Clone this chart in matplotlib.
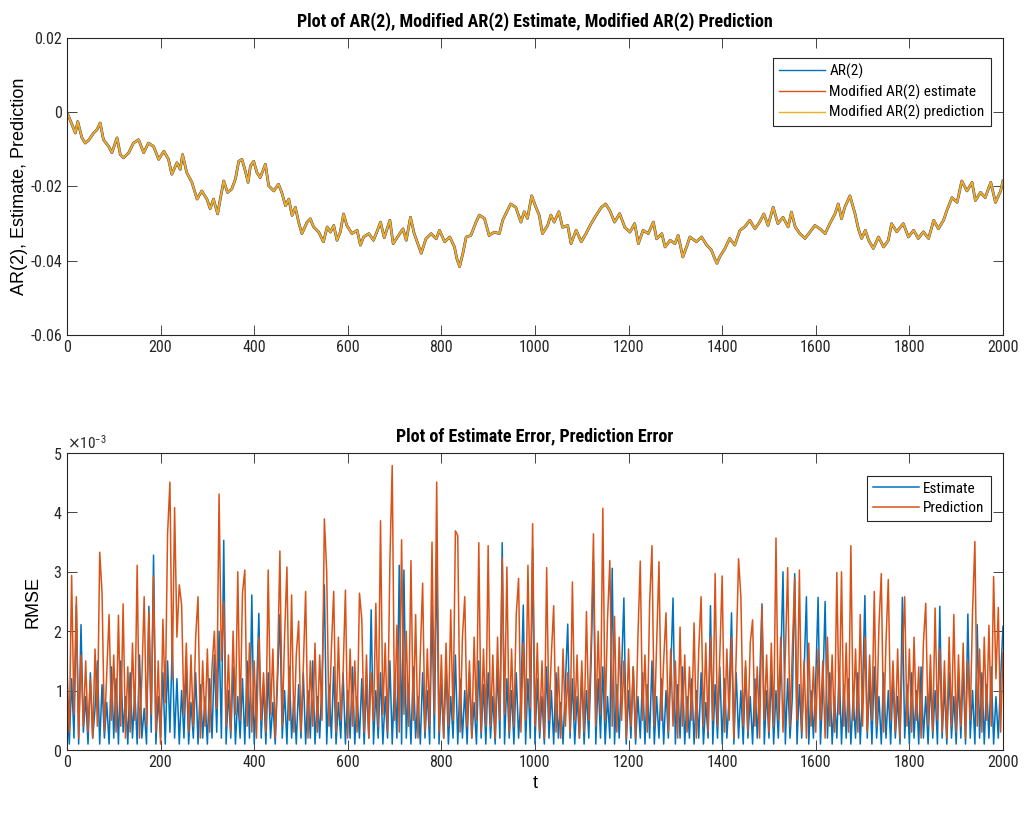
import numpy as np
import matplotlib
matplotlib.use("Agg")
import matplotlib.pyplot as plt
from matplotlib import font_manager
from matplotlib.ticker import ScalarFormatter

# pick a narrow font if there is one (MATLAB export looks squashed)
names = set(f.name for f in font_manager.fontManager.ttflist)
narrow = "DejaVu Sans"
for cand in ["Liberation Sans Narrow", "Arial Narrow", "Roboto Condensed", "DejaVu Sans Condensed"]:
    if cand in names:
        narrow = cand
        break
plain = "Liberation Sans" if "Liberation Sans" in names else "DejaVu Sans"
plt.rcParams["font.family"] = [narrow, "DejaVu Sans"]
plt.rcParams["axes.unicode_minus"] = False

# ---- top panel: AR(2) path, values in units of 1e-3
ar_t = [0, 11, 18, 23, 32, 39, 46, 57, 64, 71, 78, 89, 96, 107, 114, 121, 132, 142, 153, 164,
        174, 185, 196, 207, 217, 224, 235, 242, 247, 256, 267, 278, 288, 299, 306, 313, 322, 327, 335, 343,
        352, 360, 367, 374, 381, 387, 392, 399, 406, 413, 417, 424, 431, 442, 452, 459, 467, 474, 481, 488,
        495, 502, 513, 520, 527, 538, 548, 556, 563, 570, 577, 584, 591, 598, 609, 620, 627, 634, 645, 655,
        662, 670, 678, 690, 697, 711, 718, 725, 734, 742, 757, 767, 778, 789, 796, 807, 818, 828, 833, 839,
        846, 853, 863, 874, 881, 892, 902, 913, 924, 931, 941, 948, 959, 970, 977, 984, 993, 1002, 1009, 1016,
        1027, 1034, 1041, 1051, 1059, 1070, 1077, 1088, 1099, 1109, 1120, 1131, 1142, 1151, 1160, 1170, 1181, 1192, 1203, 1213,
        1221, 1231, 1242, 1253, 1260, 1271, 1278, 1289, 1299, 1306, 1316, 1325, 1331, 1345, 1356, 1367, 1377, 1384, 1389, 1395,
        1406, 1416, 1427, 1438, 1448, 1459, 1470, 1480, 1489, 1498, 1509, 1519, 1530, 1541, 1548, 1556, 1566, 1577, 1588, 1598,
        1609, 1620, 1630, 1641, 1648, 1655, 1662, 1673, 1684, 1691, 1698, 1706, 1713, 1723, 1734, 1745, 1755, 1762, 1773, 1787,
        1798, 1809, 1819, 1830, 1841, 1852, 1862, 1873, 1880, 1891, 1902, 1912, 1923, 1934, 1941, 1952, 1962, 1974, 1984, 1995,
        2000]
ar_v = [0, -3.4, -5.6, -2.5, -6.9, -8.3, -7.6, -5.6, -4.7, -2.9, -7.4, -9.2, -10.9, -6.9, -11.4, -12.3, -10.9, -8.3, -7.4, -10.9,
        -8.3, -9.2, -12.7, -10.5, -12.7, -16.7, -13.6, -15.4, -11.4, -16.3, -18.9, -23.4, -21.2, -23.4, -26.0, -23.4, -27.4, -23.8, -18.5, -21.6,
        -20.7, -18.0, -13.2, -12.7, -15.8, -18.9, -14.5, -13.2, -16.3, -17.6, -16.3, -14.0, -19.8, -21.2, -19.4, -21.6, -25.2, -23.4, -27.8, -25.6,
        -29.6, -32.7, -29.6, -28.7, -30.9, -32.3, -34.9, -30.9, -32.3, -30.5, -34.5, -32.3, -27.4, -30.5, -32.7, -31.8, -35.8, -33.6, -32.7, -34.5,
        -32.3, -29.6, -33.8, -29.1, -35.4, -32.7, -31.4, -34.5, -28.3, -32.7, -38.0, -34.1, -32.7, -34.1, -31.8, -34.9, -33.6, -36.3, -39.4, -41.6,
        -38.0, -33.6, -33.2, -29.6, -27.7, -28.6, -33.2, -32.3, -32.7, -29.1, -26.5, -24.7, -25.6, -29.6, -26.8, -28.6, -22.5, -25.6, -27.7, -32.7,
        -30.5, -27.7, -29.6, -26.8, -31.0, -30.5, -35.4, -31.8, -34.9, -32.7, -30.0, -27.7, -25.6, -24.7, -26.5, -29.6, -27.3, -31.0, -32.3, -30.0,
        -35.4, -31.8, -32.7, -29.6, -34.1, -32.7, -36.3, -34.5, -35.4, -33.2, -39.0, -35.9, -33.6, -34.9, -33.6, -35.8, -37.1, -39.4, -40.7, -38.9,
        -36.7, -34.0, -35.8, -31.8, -30.9, -29.1, -31.4, -29.6, -27.4, -30.5, -25.6, -30.0, -28.3, -30.9, -26.9, -30.9, -32.7, -34.0, -32.2, -30.5,
        -31.4, -32.7, -30.0, -27.4, -24.7, -28.7, -25.6, -22.5, -27.4, -31.4, -34.0, -31.8, -34.5, -36.7, -33.6, -36.3, -34.5, -30.0, -32.2, -30.0,
        -33.6, -31.8, -34.0, -32.2, -34.0, -29.1, -31.4, -29.1, -26.5, -23.0, -24.3, -18.5, -21.2, -18.9, -23.8, -21.6, -23.0, -18.9, -24.3, -21.2,
        -18.5]
# estimate and prediction sit on top of the AR(2) path at this resolution
est_v = ar_v
pred_v = ar_v

# ---- bottom panel: errors sampled every 5 steps, units of 1e-3
err_t = list(range(0, 2001, 5))
pred_err = [
    1.4, 0.3, 2.94, 0.6, 2.58, 0.2, 1.6, 0.4, 1.5, 0.3, 1.2, 0.2, 1.7, 0.4, 3.33, 2.64, 0.3, 1.3, 2.28, 0.5,
    1.6, 0.3, 2.27, 0.4, 2.46, 0.2, 1.4, 0.3, 1.8, 0.5, 3.11, 0.2, 1.2, 2.58, 0.4, 2.33, 0.6, 2.93, 0.3, 1.5,
    0.1, 2.2, 0.8, 3.64, 4.51, 1.2, 4.08, 1.9, 2.78, 2.44, 0.6, 1.8, 0.3, 1.6, 0.4, 1.9, 2.58, 0.2, 1.5, 0.4,
    1.7, 0.3, 1.4, 2.0, 0.7, 4.31, 1.5, 2.5, 0.4, 1.6, 0.3, 2.0, 0.6, 3.0, 0.5, 2.64, 3.03, 0.4, 1.8, 0.3,
    1.5, 0.2, 1.9, 0.5, 1.3, 0.3, 3.03, 0.6, 1.7, 0.2, 1.4, 3.35, 0.4, 1.9, 3.08, 0.5, 2.61, 0.3, 1.6, 2.17,
    0.3, 1.4, 2.67, 0.2, 1.5, 0.4, 1.8, 0.3, 1.6, 0.5, 3.89, 3.0, 0.4, 1.7, 2.67, 0.3, 1.9, 0.5, 1.3, 2.69,
    0.2, 1.7, 0.4, 1.5, 0.3, 2.64, 2.2, 0.3, 1.6, 0.2, 1.3, 0.5, 2.47, 0.4, 3.86, 0.6, 1.8, 0.3, 3.17, 4.79,
    0.5, 2.1, 0.3, 3.54, 0.6, 2.0, 0.4, 3.19, 0.5, 2.28, 0.2, 1.6, 2.81, 0.3, 1.7, 0.4, 3.5, 0.6, 4.51, 0.3,
    1.6, 0.2, 1.8, 0.4, 2.36, 0.5, 3.69, 3.61, 0.3, 1.9, 2.58, 0.4, 1.5, 0.2, 1.9, 0.5, 3.49, 0.3, 1.7, 0.4,
    3.44, 0.4, 1.6, 0.2, 1.9, 0.5, 3.23, 0.6, 3.08, 0.3, 1.7, 0.4, 2.28, 2.89, 0.3, 1.8, 0.5, 3.11, 0.7, 3.81,
    0.4, 1.8, 0.3, 1.5, 0.2, 3.07, 0.5, 1.6, 2.43, 0.3, 1.4, 0.2, 1.7, 0.4, 1.3, 0.3, 2.83, 0.5, 1.6, 0.2,
    1.5, 0.3, 2.33, 0.5, 1.8, 3.64, 0.4, 2.0, 0.6, 4.07, 0.5, 2.2, 3.19, 0.4, 2.25, 0.3, 1.9, 0.5, 1.5, 0.2,
    1.7, 0.4, 1.4, 0.2, 1.9, 3.18, 0.5, 1.6, 0.3, 2.47, 3.44, 0.4, 1.8, 3.17, 0.5, 1.5, 2.31, 0.3, 1.7, 0.4,
    1.5, 0.2, 2.07, 0.4, 1.6, 0.3, 1.4, 0.5, 2.14, 0.2, 1.7, 2.58, 0.4, 1.8, 0.3, 1.9, 0.5, 2.97, 0.4, 1.6,
    2.93, 0.3, 1.7, 0.5, 1.9, 0.2, 1.6, 3.22, 2.57, 0.4, 1.5, 0.3, 1.8, 2.19, 0.4, 1.4, 0.2, 2.42, 0.5, 1.6,
    0.3, 1.8, 0.4, 3.57, 0.5, 1.9, 0.3, 1.6, 3.07, 0.4, 1.7, 2.89, 0.5, 3.03, 0.3, 1.5, 0.2, 1.8, 0.4, 1.4,
    0.3, 1.7, 0.5, 1.5, 0.2, 1.9, 0.4, 1.6, 0.3, 2.99, 0.6, 3.0, 0.4, 1.8, 0.3, 3.44, 0.5, 1.7, 0.3, 2.28,
    0.4, 1.9, 0.3, 1.6, 0.5, 2.67, 0.4, 2.1, 2.97, 0.3, 1.8, 2.87, 0.5, 1.5, 0.3, 1.7, 0.2, 1.6, 2.58, 0.4,
    1.7, 0.3, 1.9, 0.5, 1.4, 0.2, 1.8, 2.47, 0.4, 1.6, 0.3, 2.39, 0.5, 1.7, 0.3, 1.5, 0.2, 1.9, 0.4, 2.28,
    0.3, 1.6, 0.4, 1.8, 0.2, 1.5, 0.5, 2.33, 3.51, 0.4, 1.7, 0.3, 1.9, 0.5, 2.1, 0.4, 2.92, 1.2, 2.4, 0.3,
    1.64]
est_err = [
    0.8, 0.1, 1.2, 0.2, 2.44, 0.1, 2.11, 0.3, 0.9, 0.1, 1.3, 0.2, 0.7, 1.5, 0.1, 1.1, 0.2, 0.8, 0.1, 1.4,
    0.2, 1.2, 0.1, 1.5, 0.3, 0.9, 0.1, 1.3, 0.2, 1.0, 0.1, 1.6, 0.2, 0.7, 0.1, 2.42, 0.3, 3.28, 0.1, 0.9,
    0.2, 1.3, 0.1, 1.5, 0.3, 1.8, 0.2, 1.2, 0.1, 1.0, 0.2, 1.4, 0.1, 0.8, 0.2, 1.3, 0.1, 1.1, 0.2, 0.9,
    0.1, 1.2, 0.2, 1.6, 0.3, 2.0, 0.2, 3.53, 0.1, 1.0, 0.2, 1.4, 0.1, 0.9, 0.2, 1.2, 0.1, 1.5, 0.2, 2.61,
    0.1, 0.9, 2.3, 0.2, 1.1, 0.1, 1.3, 0.2, 0.8, 0.1, 1.2, 2.28, 0.2, 1.0, 0.1, 1.4, 0.2, 0.9, 0.1, 1.1,
    0.2, 1.3, 0.1, 1.0, 0.2, 1.5, 0.1, 0.9, 0.2, 1.2, 2.78, 0.1, 1.1, 0.2, 1.4, 0.1, 0.8, 0.2, 1.3, 0.1,
    1.0, 0.2, 1.4, 0.1, 0.9, 0.2, 1.2, 0.1, 1.1, 0.2, 2.36, 0.1, 1.0, 0.2, 1.3, 0.1, 0.9, 0.2, 1.5, 0.1,
    1.2, 0.2, 3.11, 0.1, 3.03, 0.2, 1.1, 0.1, 1.4, 0.2, 0.9, 0.1, 1.3, 0.2, 1.0, 0.1, 2.44, 0.2, 3.33, 0.1,
    1.1, 0.2, 1.4, 0.1, 0.9, 0.2, 1.6, 0.1, 1.2, 0.2, 1.0, 0.1, 1.3, 0.2, 0.8, 0.1, 1.5, 0.2, 1.1, 0.1,
    1.3, 0.2, 0.9, 0.1, 1.4, 0.2, 3.49, 0.1, 1.2, 0.2, 1.0, 0.1, 1.3, 0.2, 0.9, 2.44, 0.1, 1.2, 0.2, 3.39,
    0.1, 1.2, 0.2, 0.9, 0.1, 1.4, 0.2, 1.0, 0.1, 1.3, 0.2, 0.8, 0.1, 1.1, 2.12, 0.2, 1.2, 0.1, 0.9, 0.2,
    1.3, 0.1, 1.0, 0.2, 1.5, 3.17, 0.1, 1.2, 0.2, 1.4, 0.1, 0.9, 0.2, 3.06, 0.1, 1.1, 0.2, 1.3, 2.56, 0.1,
    1.0, 0.2, 1.4, 0.1, 0.9, 0.2, 1.3, 0.1, 1.1, 0.2, 1.5, 0.1, 0.9, 0.2, 1.2, 0.1, 1.0, 0.2, 1.3, 2.56,
    0.1, 1.1, 0.2, 1.4, 0.1, 0.9, 0.2, 1.2, 0.1, 1.0, 0.2, 1.3, 0.1, 0.8, 0.2, 2.43, 0.1, 1.1, 0.2, 1.4,
    0.1, 1.2, 0.2, 0.9, 2.31, 0.1, 1.3, 0.2, 1.0, 0.1, 1.4, 0.2, 0.9, 0.1, 1.2, 0.2, 1.1, 2.46, 0.1, 1.0,
    0.2, 1.3, 0.1, 1.0, 0.2, 1.4, 3.0, 0.1, 1.2, 0.2, 0.9, 2.97, 0.1, 1.1, 0.2, 1.3, 2.58, 0.1, 1.0, 0.2,
    1.2, 2.57, 0.1, 1.0, 2.5, 0.2, 1.3, 0.1, 0.9, 0.2, 1.4, 0.1, 1.1, 0.2, 1.2, 0.1, 0.9, 0.2, 1.3, 0.1,
    1.0, 2.6, 0.2, 1.2, 0.1, 1.4, 0.2, 0.9, 0.1, 1.3, 0.2, 1.0, 0.1, 1.2, 0.2, 0.9, 0.1, 2.57, 0.2, 1.1,
    0.1, 1.3, 0.2, 1.0, 0.1, 1.4, 0.2, 0.9, 0.1, 1.2, 0.2, 1.0, 0.1, 2.42, 0.2, 1.1, 0.1, 1.3, 0.2, 0.9,
    0.1, 1.2, 0.2, 1.4, 0.1, 2.29, 0.2, 1.0, 0.1, 2.11, 0.2, 1.3, 0.1, 1.1, 0.2, 1.4, 0.1, 0.9, 0.2, 1.2,
    2.08]
assert len(ar_t) == len(ar_v) and len(err_t) == len(pred_err) == len(est_err)

xticks = list(range(0, 2001, 200))
top_yticks = [0.02, 0, -0.02, -0.04, -0.06]
top_ylabels = ["0.02", "0", "-0.02", "-0.04", "-0.06"]

c_blue, c_red, c_yel = "#0072BD", "#D95319", "#EDB120"

fig = plt.figure(figsize=(10.27, 8.17), dpi=100)
ax1 = fig.add_axes([0.0652, 0.590, 0.9114, 0.3635])
ax2 = fig.add_axes([0.0652, 0.082, 0.9114, 0.3635])

scale = 1e-3
ax1.plot(ar_t, np.array(ar_v) * scale, color=c_blue, lw=2.0, label="AR(2)")
ax1.plot(ar_t, np.array(est_v) * scale, color=c_red, lw=1.6, label="Modified AR(2) estimate")
ax1.plot(ar_t, np.array(pred_v) * scale, color=c_yel, lw=1.2, label="Modified AR(2) prediction")
ax1.set_ylim(-0.06, 0.02)
ax1.set_yticks(top_yticks)
ax1.set_yticklabels(top_ylabels)
ax1.set_ylabel("AR(2), Estimate, Prediction", family=plain, fontsize=13, labelpad=2)
ax1.set_title("Plot of AR(2), Modified AR(2) Estimate, Modified AR(2) Prediction",
              fontsize=13, fontweight="bold", pad=8)
leg1 = ax1.legend(loc="upper right", bbox_to_anchor=(0.995, 0.96), fontsize=11,
                  handlelength=3.0, fancybox=False, framealpha=1, edgecolor="#262626",
                  borderpad=0.4, labelspacing=0.35, handletextpad=0.3)
leg1.get_frame().set_linewidth(0.8)
for h in leg1.get_lines():
    h.set_linewidth(1.0)

ax2.plot(err_t, np.array(est_err) * scale, color=c_blue, lw=1.1, label="Estimate")
ax2.plot(err_t, np.array(pred_err) * scale, color=c_red, lw=1.1, label="Prediction")
ax2.set_ylim(0, 5e-3)
ax2.set_yticks([0, 1e-3, 2e-3, 3e-3, 4e-3, 5e-3])
fmt = ScalarFormatter(useMathText=True)
fmt.set_powerlimits((-3, -3))
ax2.yaxis.set_major_formatter(fmt)
ax2.yaxis.get_offset_text().set_fontsize(11)
ax2.set_ylabel("RMSE", family=plain, fontsize=13, labelpad=8)
ax2.set_xlabel("t", family=plain, fontsize=13, labelpad=4)
ax2.set_title("Plot of Estimate Error, Prediction Error", fontsize=13, fontweight="bold", pad=8)
leg2 = ax2.legend(loc="upper right", bbox_to_anchor=(0.995, 0.95), fontsize=11,
                  handlelength=3.0, fancybox=False, framealpha=1, edgecolor="#262626",
                  borderpad=0.4, labelspacing=0.35, handletextpad=0.3)
leg2.get_frame().set_linewidth(0.8)

for ax in (ax1, ax2):
    ax.set_xlim(0, 2000)
    ax.set_xticks(xticks)
    ax.tick_params(direction="in", length=7, width=0.6, top=True, right=True,
                   labelsize=11.5, colors="#262626", labelcolor="#262626")
    for s in ax.spines.values():
        s.set_color("#262626")
        s.set_linewidth(0.8)

fig.savefig("out.png", dpi=100)
